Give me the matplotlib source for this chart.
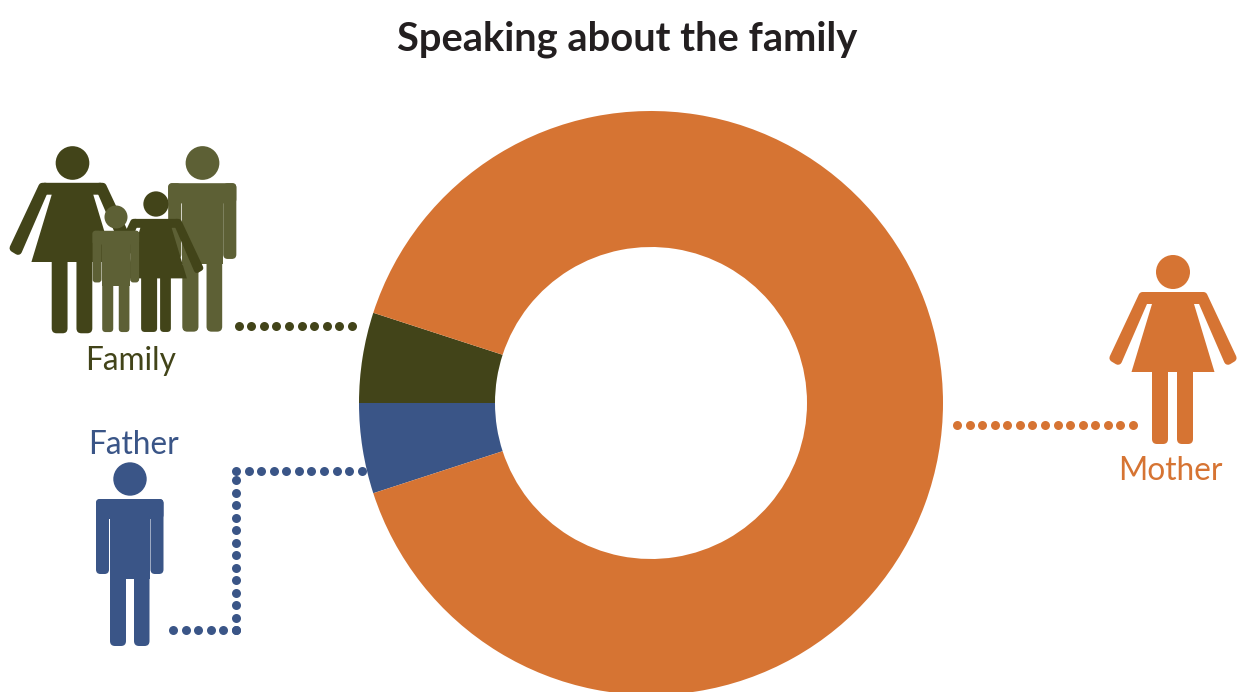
import matplotlib

matplotlib.use("Agg")
import matplotlib.pyplot as plt
import numpy as np
from matplotlib.patches import Circle, FancyBboxPatch, Polygon

plt.rcParams["font.family"] = ["Lato", "DejaVu Sans"]

W, H = 1237, 692
DPI = 100

# data
labels = ["Family", "Father", "Mother"]
shares = [5, 5, 90]
title = "Speaking about the family"

# colors
orange = "#D67433"
olive = "#424419"
olive_light = "#5D6035"
blue = "#3A5587"
colors = [olive, blue, orange]

fig = plt.figure(figsize=(W / DPI, H / DPI), dpi=DPI, facecolor="white")

# canvas in pixel units for the pictograms and dotted leaders
bg = fig.add_axes([0, 0, 1, 1])
bg.set_xlim(0, W)
bg.set_ylim(H, 0)
bg.axis("off")

# donut
cx, cy, R = 651, 403, 292
ax = fig.add_axes([(cx - R) / W, (H - cy - R) / H, 2 * R / W, 2 * R / H])
ax.pie(
    shares,
    colors=colors,
    startangle=162,
    radius=1,
    wedgeprops={"width": 1 - 156 / R, "linewidth": 0},
)
ax.set_xlim(-1, 1)
ax.set_ylim(-1, 1)
ax.patch.set_alpha(0)


def px(v):
    """pixels to points"""
    return v * 72 / DPI


def leg(x0, x1, y0, y1, c, r=5.0, z=2):
    bg.add_patch(
        FancyBboxPatch(
            (x0 + r, y0 + r),
            x1 - x0 - 2 * r,
            y1 - y0 - 2 * r,
            boxstyle=f"round,pad={r},rounding_size={r}",
            fc=c,
            ec="none",
            zorder=z,
        )
    )


def woman(x, y, s, c, legs=((-21, -5), (4, 20)), z=2):
    """pictogram woman, (x, y) is the head center"""
    bg.add_patch(Circle((x, y), 17 * s, fc=c, ec="none", zorder=z))
    # arms, the stroke rounds their corners
    arm = [(-30.5, 24), (-59.6, 86), (-55, 88.8), (-29.7, 30.4), (-27, 24)]
    for sign in (-1, 1):
        pts = [(x + sign * a * s, y + b * s) for a, b in arm]
        bg.add_patch(
            Polygon(pts, fc=c, ec=c, lw=px(8 * s), joinstyle="round", zorder=z)
        )
    dress = [
        (-29, 20),
        (29, 20),
        (29, 32),
        (21, 32),
        (41.5, 100),
        (-41.5, 100),
        (-21, 32),
        (-29, 32),
    ]
    bg.add_patch(
        Polygon(
            [(x + a * s, y + b * s) for a, b in dress], fc=c, ec="none", zorder=z
        )
    )
    for a, b in legs:
        leg(x + a * s, x + b * s, y + 95 * s, y + 172 * s, c, r=5 * s, z=z)


def man(x, y, s, c, z=2):
    """pictogram man, (x, y) is the head center"""
    bg.add_patch(Circle((x, y), 16.7 * s, fc=c, ec="none", zorder=z))
    # shoulders and arms
    leg(x - 34 * s, x + 33.5 * s, y + 20 * s, y + 40 * s, c, r=4 * s, z=z)
    leg(x - 34 * s, x - 21 * s, y + 20 * s, y + 95 * s, c, r=4.5 * s, z=z)
    leg(x + 20.5 * s, x + 33.5 * s, y + 20 * s, y + 95 * s, c, r=4.5 * s, z=z)
    # torso
    bg.add_patch(
        FancyBboxPatch(
            (x - 20 * s, y + 25 * s),
            40 * s,
            75 * s,
            boxstyle="square,pad=0",
            fc=c,
            ec="none",
            zorder=z,
        )
    )
    leg(x - 20 * s, x - 4 * s, y + 90 * s, y + 167 * s, c, r=5 * s, z=z)
    leg(x + 4 * s, x + 19.5 * s, y + 90 * s, y + 167 * s, c, r=5 * s, z=z)


def dots(x0, y0, x1, y1, n, c):
    bg.plot(
        np.linspace(x0, x1, n),
        np.linspace(y0, y1, n),
        ls="none",
        marker="o",
        ms=px(9),
        mfc=c,
        mec="none",
        zorder=1,
    )


# pictograms
woman(1173, 272, 1.0, orange)
man(130, 479, 1.0, blue)

woman(72.5, 163, 0.99, olive, z=2)
man(202.5, 163, 1.01, olive_light, z=3)
woman(156, 204, 0.744, olive, legs=((-20, 1.5), (5.5, 20)), z=4)
man(116, 217, 0.689, olive_light, z=5)

# dotted leaders
dots(238.5, 326, 352, 326, 10, olive)
dots(957, 425, 1133, 425, 15, orange)
dots(236, 471, 361.7, 471, 11, blue)
dots(236, 480, 236, 630, 13, blue)
dots(173, 630, 236, 630, 6, blue)

# text
bg.text(627.5, 51, title, ha="center", va="baseline", fontsize=28.7, fontweight="bold", color="#231F20")
bg.text(131, 370, labels[0], ha="center", va="baseline", fontsize=22.8, color=olive)
bg.text(133.5, 454, labels[1], ha="center", va="baseline", fontsize=22.8, color=blue)
bg.text(1170.5, 480, labels[2], ha="center", va="baseline", fontsize=22.8, color=orange)

fig.savefig("out.png", dpi=DPI, facecolor="white")
